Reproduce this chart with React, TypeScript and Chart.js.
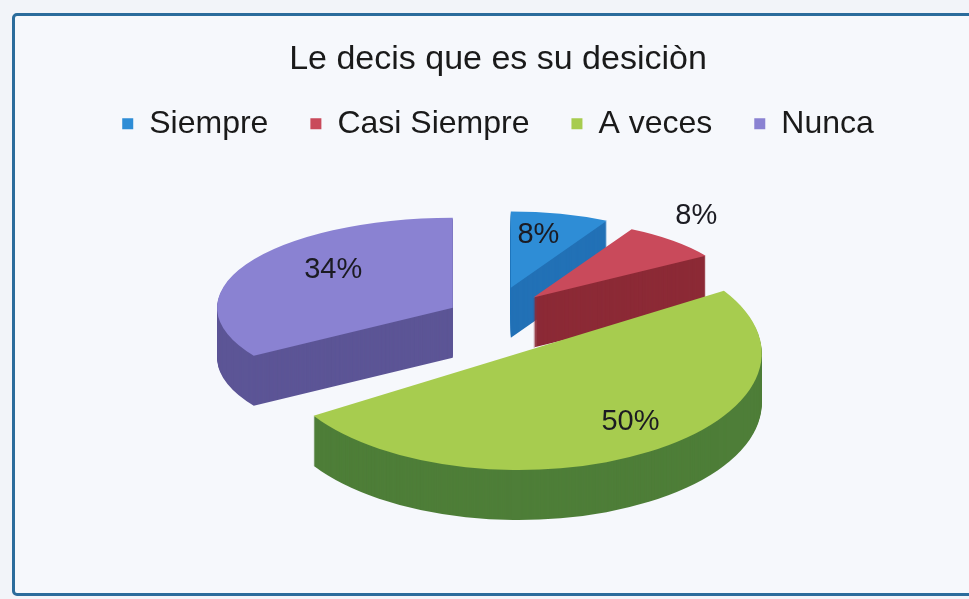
import React, { useEffect, useRef } from 'react';
import { Chart, registerables } from 'chart.js';

Chart.register(...registerables);

// ---- data ----
const categories = ['Siempre', 'Casi Siempre', 'A veces', 'Nunca'];
const percentages = [8, 8, 50, 34];
const chartTitle = 'Le decis que es su desiciòn';

// ---- styles ----
const topColors = ['#2e8dd6', '#c94a5b', '#a7cc4f', '#8a82d2'];
const sideColors = ['#2271b6', '#8c2a36', '#4e7e38', '#5c5596'];
const FONT = '"Liberation Sans", Arial, sans-serif';
// pie look: base radius, side depth, explode distance (screen x / y)
const PIE = { radius: 243, depth: 50, explodeX: 51.6, explodeY: 41 };
// per-slice perspective approximation (order follows the categories)
const SLICE_SCALE = [0.82, 0.84, 1.0, 0.97];
const SLICE_SQUASH = [0.314, 0.32, 0.48, 0.37];
const SLICE_EXPLODE = [1, 1, 0.75, 1];
// data-label placement (fraction of radius, turn from bisector in degrees)
const LABEL_FRAC = [0.7, 1.32, 0.75, 0.66];
const LABEL_TURN_DEG = [-3, -6, -5.4, 11];

function vertexOf(el: any, i: number) {
  const m = (el.startAngle + el.endAngle) / 2;
  const f = SLICE_EXPLODE[i];
  return { vx: el.x + Math.cos(m) * PIE.explodeX * f, vy: el.y + Math.sin(m) * PIE.explodeY * f, m };
}

function drawAt(ctx: CanvasRenderingContext2D, target: any, el: any, i: number, drop: number) {
  const { vx, vy } = vertexOf(el, i);
  ctx.save();
  ctx.translate(vx, vy + drop);
  ctx.scale(SLICE_SCALE[i], SLICE_SQUASH[i]);
  ctx.translate(-el.x, -el.y);
  target.draw(ctx);
  ctx.restore();
}

const pie3d = {
  id: 'pie3d',
  beforeDatasetDraw(chart: any, args: any) {
    const ctx = chart.ctx as CanvasRenderingContext2D;
    const els = args.meta.data as any[];
    const mid = (e: any) => (e.startAngle + e.endAngle) / 2;
    const order = els.map((_, i) => i).sort((a, b) => Math.sin(mid(els[a])) - Math.sin(mid(els[b])));
    for (const i of order) {
      const el = els[i];
      const side = Object.create(el);
      side.options = Object.assign({}, el.options, { backgroundColor: sideColors[i], borderWidth: 0 });
      for (let j = PIE.depth; j >= 1; j--) drawAt(ctx, side, el, i, j);
      drawAt(ctx, el, el, i, 0);
    }
    return false;
  },
  afterDatasetsDraw(chart: any) {
    const ctx = chart.ctx as CanvasRenderingContext2D;
    const meta = chart.getDatasetMeta(0);
    ctx.save();
    ctx.font = `29px ${FONT}`;
    ctx.fillStyle = '#1b1b22';
    ctx.textAlign = 'center';
    ctx.textBaseline = 'middle';
    meta.data.forEach((el: any, i: number) => {
      const { vx, vy, m } = vertexOf(el, i);
      const a = m + (LABEL_TURN_DEG[i] * Math.PI) / 180;
      const rr = el.outerRadius * LABEL_FRAC[i];
      const px = vx + Math.cos(a) * rr * SLICE_SCALE[i];
      const py = vy + Math.sin(a) * rr * SLICE_SQUASH[i];
      ctx.fillText(`${percentages[i]}%`, px, py);
    });
    ctx.restore();
  },
};

export default function App() {
  const ref = useRef<HTMLCanvasElement>(null);
  useEffect(() => {
    const chart = new Chart(ref.current as HTMLCanvasElement, {
      type: 'pie',
      data: {
        labels: categories,
        datasets: [
          {
            data: percentages,
            backgroundColor: topColors,
            borderWidth: 0,
            radius: PIE.radius,
          } as any,
        ],
      },
      options: {
        responsive: false,
        animation: false,
        devicePixelRatio: 1,
        layout: { padding: { top: 25, left: 27, right: 0, bottom: 94 } },
        plugins: {
          title: {
            display: true,
            text: chartTitle,
            color: '#1a1a1a',
            font: { family: FONT, size: 34, weight: 'normal', lineHeight: 1.2 },
            padding: { top: 14, bottom: -14 },
          },
          legend: {
            position: 'top',
            labels: {
              boxWidth: 11,
              boxHeight: 11,
              padding: 42,
              color: '#1a1a1a',
              font: { family: FONT, size: 32 },
            },
          },
          tooltip: { enabled: false },
        },
      } as any,
      plugins: [pie3d as any],
    });
    return () => chart.destroy();
  }, []);

  return (
    <div style={{ position: 'fixed', left: 0, top: 0, width: 969, height: 599, background: '#f2f4f9', overflow: 'hidden' }}>
      <div
        style={{
          position: 'absolute',
          left: 12,
          top: 13,
          width: 1000,
          height: 577,
          border: '3px solid #2b6c9c',
          borderRadius: 5,
          background: '#f6f8fc',
        }}
      />
      <canvas ref={ref} width={969} height={599} style={{ position: 'absolute', left: 0, top: 0 }} />
    </div>
  );
}
